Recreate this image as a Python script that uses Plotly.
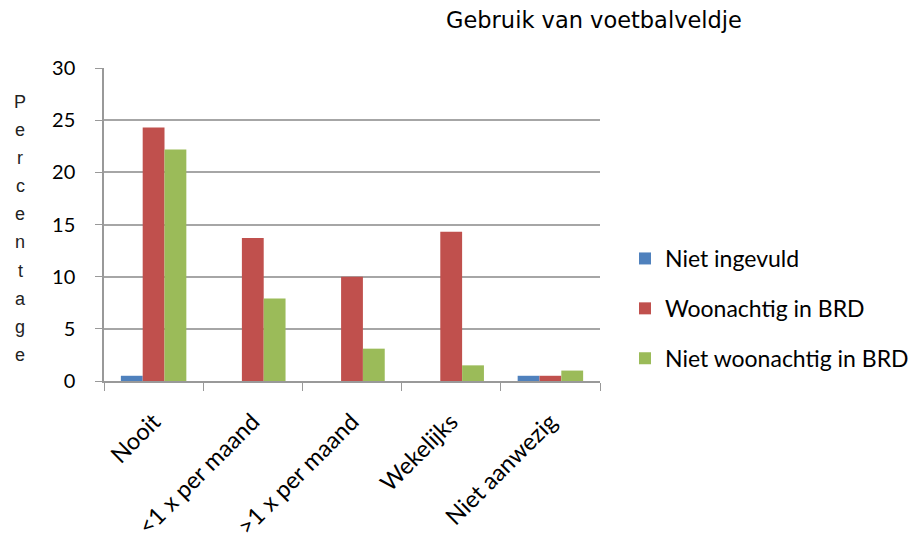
import plotly.graph_objects as go

categories = ["Nooit", "<1 x per maand", ">1 x per maand", "Wekelijks", "Niet aanwezig"]
series_names = ["Niet ingevuld", "Woonachtig in BRD", "Niet woonachtig in BRD"]
niet_ingevuld = [0.5, 0, 0, 0, 0.5]
woonachtig = [24.3, 13.7, 10.0, 14.3, 0.5]
niet_woonachtig = [22.2, 7.9, 3.1, 1.5, 1.0]
colors = ["#4F81BD", "#C0504D", "#9BBB59"]
y_ticks = [0, 5, 10, 15, 20, 25, 30]
title_text = "Gebruik van voetbalveldje"
y_title = "Percentage"

# page body has an 8px margin; figure is sized/offset to compensate
OFF = 8
W, H = 920 - OFF, 546 - OFF
ml, mt = 104 - OFF, 68 - OFF
plot_w, plot_h = 496, 313
mr = W - ml - plot_w
mb = H - mt - plot_h

fig = go.Figure()
for name, vals, col in zip(series_names, [niet_ingevuld, woonachtig, niet_woonachtig], colors):
    fig.add_trace(go.Bar(x=categories, y=vals, name=name, marker_color=col,
                         marker_line_width=0, legendgroup=name))

# vertical stacked y-axis title letters
first_py, step = 101.7 - OFF, 28.15
annotations = []
for i, ch in enumerate(y_title):
    py = first_py + i * step
    annotations.append(dict(text=ch, xref="paper", yref="paper",
                            x=(20 - OFF - ml) / plot_w, y=(H - mb - py) / plot_h,
                            xanchor="center", yanchor="middle", showarrow=False,
                            font=dict(family="Liberation Sans, Arial", size=18, color="#222")))

fig.update_layout(
    width=W, height=H,
    margin=dict(l=ml, r=mr, t=mt, b=mb, autoexpand=False),
    paper_bgcolor="white", plot_bgcolor="white",
    barmode="group", bargap=0.34, bargroupgap=0,
    title=dict(text=title_text, x=(594 - OFF) / W, xref="container", xanchor="center",
               y=1 - (20 - OFF) / H, yref="container", yanchor="middle",
               font=dict(family="DejaVu Sans", size=22.5, color="black")),
    legend=dict(x=(625 - OFF - ml) / plot_w, y=(H - mb - (237 - OFF)) / plot_h,
                xanchor="left", yanchor="top", tracegroupgap=17,
                traceorder="grouped",
                font=dict(family="Lato", size=23, color="black"),
                bgcolor="rgba(0,0,0,0)"),
    annotations=annotations,
    xaxis=dict(showline=True, linecolor="#999", linewidth=1.5, automargin=False,
               ticks="outside", tickson="boundaries", ticklen=8, tickcolor="#999",
               tickangle=-45, ticklabelstandoff=16,
               tickfont=dict(family="Lato", size=23.5, color="black"),
               showgrid=False),
    yaxis=dict(range=[0, 30], tickvals=y_ticks, showline=True, linecolor="#999", linewidth=1.5,
               automargin=False,
               ticks="outside", ticklen=7, tickcolor="#999",
               showgrid=True, gridcolor="#a6a6a6", gridwidth=1.5,
               ticklabelstandoff=16,
               tickfont=dict(family="Lato", size=20, color="black"), zeroline=False),
    showlegend=True,
)

fig.write_html("out.html")
